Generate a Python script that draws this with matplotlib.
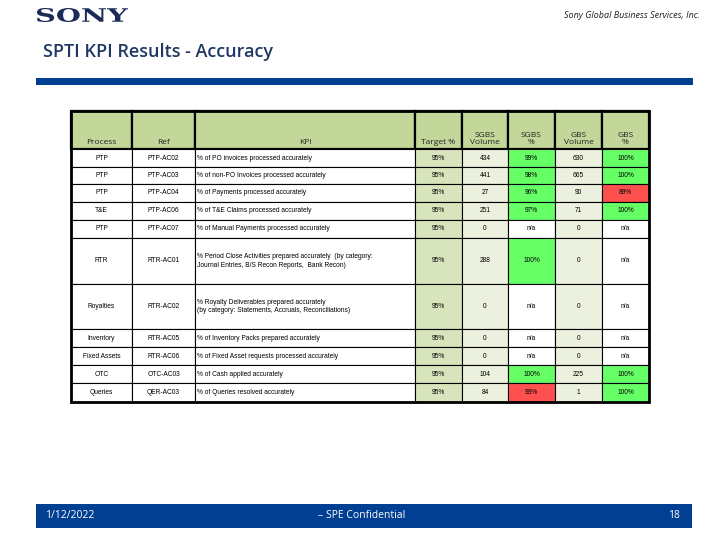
import matplotlib
matplotlib.use("Agg")
import matplotlib.pyplot as plt
from matplotlib.patches import Rectangle, PathPatch
from matplotlib.textpath import TextPath
from matplotlib.font_manager import FontProperties
from matplotlib.transforms import Affine2D

# table data
process = ["PTP", "PTP", "PTP", "T&E", "PTP", "RTR", "Royalties",
           "Inventory", "Fixed Assets", "OTC", "Queries"]
ref = ["PTP-AC02", "PTP-AC03", "PTP-AC04", "PTP-AC06", "PTP-AC07", "RTR-AC01",
       "RTR-AC02", "RTR-AC05", "RTR-AC06", "OTC-AC03", "QER-AC03"]
kpi = ["% of PO invoices processed accurately",
       "% of non-PO Invoices processed accurately",
       "% of Payments processed accurately",
       "% of T&E Claims processed accurately",
       "% of Manual Payments processed accurately",
       "% Period Close Activities prepared accurately  (by category:\nJournal Entries, B/S Recon Reports,  Bank Recon)",
       "% Royalty Deliverables prepared accurately\n(by category: Statements, Accruals, Reconciliations)",
       "% of Inventory Packs prepared accurately",
       "% of Fixed Asset requests processed accurately",
       "% of Cash applied accurately",
       "% of Queries resolved accurately"]
target = [95] * 11
sgbs_volume = [434, 441, 27, 251, 0, 288, 0, 0, 0, 104, 84]
sgbs_pct = [99, 98, 96, 97, None, 100, None, None, None, 100, 93]
gbs_volume = [630, 665, 90, 71, 0, 0, 0, 0, 0, 225, 1]
gbs_pct = [100, 100, 89, 100, None, None, None, None, None, 100, 100]

headers = ["Process", "Ref", "KPI", "Target %", "SGBS\nVolume", "SGBS\n%",
           "GBS\nVolume", "GBS\n%"]

# layout in pixels
col_x = [71, 132, 195, 415, 462, 508, 555, 602, 649]
row_y = [111, 149, 167, 184, 202, 220, 238, 284, 329, 347, 365, 383, 402]

HEAD = "#c4d79b"
TARGET = "#d8e4bc"
VOL = "#ebf1de"
GREEN = "#66ff66"
RED = "#ff5050"
BLUE = "#003f91"
NAVY = "#1f3864"

fig = plt.figure(figsize=(7.2, 5.4), dpi=100)
ax = fig.add_axes([0, 0, 1, 1])
ax.set_xlim(0, 720)
ax.set_ylim(540, 0)
ax.axis("off")

# logo: wide bold serif word, scaled into its box
logo = TextPath((0, 0), "SONY", size=1,
                prop=FontProperties(family="DejaVu Serif", weight="bold"))
ext = logo.get_extents()
sx = 91 / ext.width
sy = 14 / ext.height
tr = Affine2D().translate(-ext.x0, -ext.y0).scale(sx, -sy).translate(37, 22)
ax.add_patch(PathPatch(tr.transform_path(logo), facecolor="#1b2a56", lw=0))

ax.text(700, 16, "Sony Global Business Services, Inc.", fontsize=6.5, style="italic",
        family="Open Sans", ha="right", va="center", color="#222222")
ax.text(43, 52, "SPTI KPI Results - Accuracy", fontsize=13, family="Open Sans",
        fontweight="semibold", color=NAVY, ha="left", va="center")
ax.add_patch(Rectangle((36, 78), 657, 7, color=BLUE, lw=0))


def pct_color(v, t):
    if v is None:
        return "white"
    return GREEN if v >= t else RED


def cell(c, r, color, text="", ha="center", size=4.8):
    x0, x1 = col_x[c], col_x[c + 1]
    y0, y1 = row_y[r], row_y[r + 1]
    ax.add_patch(Rectangle((x0, y0), x1 - x0, y1 - y0, facecolor=color,
                           edgecolor="black", lw=0.8))
    if text:
        tx = (x0 + x1) / 2 if ha == "center" else x0 + 2
        ax.text(tx, (y0 + y1) / 2, text, ha=ha, va="center", fontsize=size,
                family="Liberation Sans", color="black", linespacing=1.3)


# header row
for c, h in enumerate(headers):
    x0, x1 = col_x[c], col_x[c + 1]
    ax.add_patch(Rectangle((x0, row_y[0]), x1 - x0, row_y[1] - row_y[0],
                           facecolor=HEAD, edgecolor="black", lw=1.6))
    ax.text((x0 + x1) / 2, row_y[1] - 2.5, h, ha="center", va="bottom", fontsize=6,
            family="Open Sans", color="#222222", linespacing=1.1)

# body rows
for i in range(len(process)):
    r = i + 1
    cell(0, r, "white", process[i])
    cell(1, r, "white", ref[i])
    cell(2, r, "white", kpi[i], ha="left")
    cell(3, r, TARGET, f"{target[i]}%")
    cell(4, r, VOL, str(sgbs_volume[i]))
    cell(5, r, pct_color(sgbs_pct[i], target[i]),
         "n/a" if sgbs_pct[i] is None else f"{sgbs_pct[i]}%")
    cell(6, r, VOL, str(gbs_volume[i]))
    cell(7, r, pct_color(gbs_pct[i], target[i]),
         "n/a" if gbs_pct[i] is None else f"{gbs_pct[i]}%")

# thick outer border
ax.add_patch(Rectangle((col_x[0], row_y[0]), col_x[-1] - col_x[0], row_y[-1] - row_y[0],
                       fill=False, edgecolor="black", lw=2))

# footer
ax.add_patch(Rectangle((36, 504), 656, 24, color=BLUE, lw=0))
ax.text(45, 516, "1/12/2022", color="white", fontsize=7.5, family="Open Sans",
        ha="left", va="center")
ax.text(362, 516, "– SPE Confidential", color="white", fontsize=7.5, family="Open Sans",
        ha="center", va="center")
ax.text(680, 516, "18", color="white", fontsize=7.5, family="Open Sans",
        ha="right", va="center")

fig.savefig("out.png", dpi=100)
